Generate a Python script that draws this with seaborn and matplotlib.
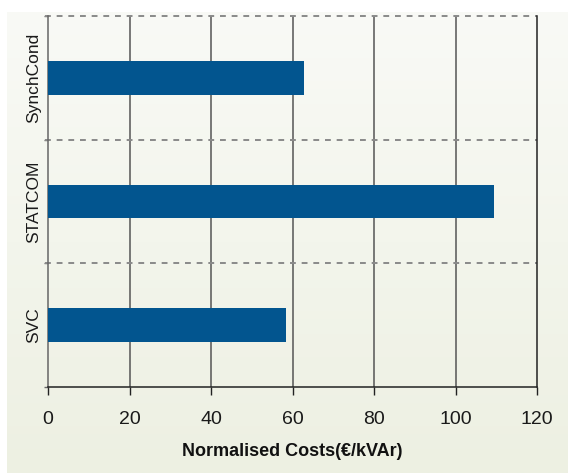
import numpy as np
import pandas as pd
import matplotlib
matplotlib.use("Agg")
import matplotlib.pyplot as plt
import seaborn as sns
from matplotlib.ticker import FixedLocator

# Data
devices = ["SynchCond", "STATCOM", "SVC"]
costs = [62.8, 109.4, 58.4]
x_ticks = [0, 20, 40, 60, 80, 100, 120]
x_label = "Normalised Costs(€/kVAr)"

df = pd.DataFrame({"device": devices, "cost": costs})

sns.set_theme(style="white")
plt.rcParams["font.family"] = ["Liberation Sans", "DejaVu Sans"]

W, H = 568, 473
fig = plt.figure(figsize=(W / 100, H / 100), dpi=100, facecolor="white")

# Soft vertical gradient panel behind the chart
bg = fig.add_axes([7 / W, 0, 1 - 7 / W, (H - 12) / H])
bg.set_axis_off()
top_c = np.array([0xf9, 0xfa, 0xf6]) / 255
bot_c = np.array([0xed, 0xf0, 0xe2]) / 255
t = np.linspace(0, 1, 256)[:, None]
grad = (top_c[None, :] * (1 - t) + bot_c[None, :] * t)[:, None, :]
bg.imshow(grad, aspect="auto", extent=[0, 1, 0, 1], origin="upper")
bg.set_zorder(0)

ax = fig.add_axes([48 / W, (H - 387) / H, (537 - 48) / W, (387 - 16) / H])
ax.set_zorder(1)
ax.patch.set_alpha(0)

sns.barplot(data=df, x="cost", y="device", order=devices, color="#02558f",
            width=0.27, saturation=1, orient="h", ax=ax, zorder=3,
            linewidth=0, edgecolor="none")

ax.set_xlim(0, 120)
ax.set_ylim(2.5, -0.5)
ax.set_xticks(x_ticks)
ax.set_xticklabels([str(v) for v in x_ticks])

# Vertical grid lines
for v in x_ticks[1:-1]:
    ax.axvline(v, color="#555555", lw=1.1, zorder=2)

# Dashed separators between categories
for yb in [-0.5, 0.5, 1.5]:
    ax.axhline(yb, color="#8a8a8a", lw=1.4, ls=(0, (3, 3)), zorder=2,
               xmin=-0.007, clip_on=False)

ax.spines["top"].set_visible(False)
ax.spines["left"].set_color("#666666")
ax.spines["left"].set_linewidth(1.1)
ax.spines["right"].set_color("#222222")
ax.spines["right"].set_linewidth(1.1)
ax.spines["bottom"].set_color("#222222")
ax.spines["bottom"].set_linewidth(1.1)

ax.tick_params(axis="x", which="major", direction="out", length=6, width=1.0,
               color="#222222", pad=11, labelsize=14, labelcolor="#1a1a1a",
               bottom=True)
ax.tick_params(axis="y", which="major", length=0, labelsize=12.5,
               labelcolor="#1a1a1a", left=True)
ax.yaxis.set_minor_locator(FixedLocator([-0.5, 0.5, 1.5, 2.5]))
ax.tick_params(axis="y", which="minor", direction="out", length=3, width=1.0,
               color="#666666", left=True)
for lbl in ax.get_yticklabels():
    lbl.set_rotation(90)
    lbl.set_va("center")
    lbl.set_ha("center")
ax.tick_params(axis="y", pad=10)

ax.set_ylabel("")
ax.set_xlabel(x_label, fontsize=13, fontweight="bold", color="#111111",
              labelpad=11)

fig.savefig("out.png", dpi=100, facecolor="white")
